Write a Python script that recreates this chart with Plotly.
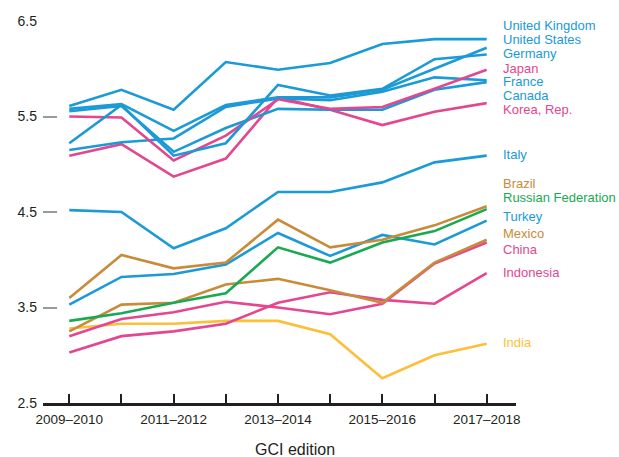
import plotly.graph_objects as go

editions = ["2009–2010", "2010–2011", "2011–2012", "2012–2013", "2013–2014",
            "2014–2015", "2015–2016", "2016–2017", "2017–2018"]

united_kingdom = [5.61, 5.78, 5.57, 6.07, 5.99, 6.06, 6.26, 6.31, 6.31]
united_states = [5.58, 5.63, 5.35, 5.62, 5.70, 5.70, 5.78, 6.00, 6.22]
germany = [5.22, 5.62, 5.09, 5.22, 5.83, 5.72, 5.79, 6.10, 6.15]
japan = [5.50, 5.49, 5.04, 5.30, 5.68, 5.58, 5.60, 5.79, 5.99]
france = [5.15, 5.23, 5.27, 5.60, 5.69, 5.67, 5.76, 5.91, 5.88]
canada = [5.555, 5.61, 5.13, 5.38, 5.58, 5.57, 5.57, 5.78, 5.86]
korea = [5.09, 5.21, 4.87, 5.06, 5.70, 5.57, 5.41, 5.55, 5.64]
italy = [4.52, 4.50, 4.12, 4.33, 4.71, 4.71, 4.81, 5.02, 5.09]
brazil = [3.60, 4.05, 3.91, 3.97, 4.42, 4.13, 4.21, 4.36, 4.56]
russia = [3.36, 3.44, 3.55, 3.65, 4.13, 3.97, 4.18, 4.30, 4.53]
turkey = [3.53, 3.82, 3.85, 3.95, 4.28, 4.04, 4.26, 4.16, 4.41]
mexico = [3.25, 3.53, 3.55, 3.74, 3.80, 3.68, 3.55, 3.97, 4.21]
china = [3.20, 3.38, 3.45, 3.56, 3.50, 3.43, 3.54, 3.96, 4.18]
indonesia = [3.03, 3.20, 3.25, 3.33, 3.55, 3.66, 3.58, 3.54, 3.86]
india = [3.28, 3.33, 3.33, 3.36, 3.36, 3.22, 2.76, 3.00, 3.12]

y_ticks = [2.5, 3.5, 4.5, 5.5, 6.5]

BLUE = "#1a9ad6"
PINK = "#e4468f"
BROWN = "#c98b3a"
GREEN = "#19a952"
YELLOW = "#fcbf38"

series = [
    ("India", india, YELLOW),
    ("Indonesia", indonesia, PINK),
    ("China", china, PINK),
    ("Mexico", mexico, BROWN),
    ("Turkey", turkey, BLUE),
    ("Russian Federation", russia, GREEN),
    ("Brazil", brazil, BROWN),
    ("Italy", italy, BLUE),
    ("Korea, Rep.", korea, PINK),
    ("Canada", canada, BLUE),
    ("France", france, BLUE),
    ("Japan", japan, PINK),
    ("Germany", germany, BLUE),
    ("United States", united_states, BLUE),
    ("United Kingdom", united_kingdom, BLUE),
]

# label vertical pixel positions (layout, not data)
label_pix = {
    "United Kingdom": 25, "United States": 40, "Germany": 53.5, "Japan": 68,
    "France": 81.5, "Canada": 95.5, "Korea, Rep.": 109.5, "Italy": 154,
    "Brazil": 183.5, "Russian Federation": 197.5, "Turkey": 216.5,
    "Mexico": 233.5, "China": 249.5, "Indonesia": 272.5, "India": 342,
}

W, H = 619, 457
L, R, T, B = 43, 103, 21, 54
plot_h = H - T - B
plot_w = W - L - R
FONT = "Liberation Sans, Arial, sans-serif"

xs = list(range(len(editions)))
fig = go.Figure()
for name, vals, col in series:
    fig.add_trace(go.Scatter(x=xs, y=vals, mode="lines", name=name,
                             line=dict(color=col, width=2.6), showlegend=False,
                             hoverinfo="skip"))

annotations = []
for name, vals, col in series:
    ypix = label_pix[name]
    annotations.append(dict(
        xref="paper", yref="paper",
        x=(501 - L) / plot_w, y=(H - B - ypix) / plot_h,
        xanchor="left", yanchor="middle", showarrow=False,
        text=name, font=dict(family=FONT, size=13, color=col),
    ))
annotations.append(dict(
    xref="paper", yref="paper", x=(295 - L) / plot_w, y=(H - B - 449) / plot_h,
    xanchor="center", yanchor="middle", showarrow=False, text="GCI edition",
    font=dict(family=FONT, size=16, color="#231f20"),
))

ticktext = [e if i % 2 == 0 else "" for i, e in enumerate(editions)]

fig.update_layout(
    width=W, height=H,
    margin=dict(l=L, r=R, t=T, b=B, pad=0),
    paper_bgcolor="white", plot_bgcolor="white",
    font=dict(family=FONT, size=13.5, color="#231f20"),
    annotations=annotations,
    xaxis=dict(
        range=[-0.504, 8.562], tickmode="array", tickvals=xs, ticktext=ticktext,
        showgrid=False, zeroline=False, showline=True, linecolor="#231f20",
        linewidth=2.5, ticks="inside", ticklen=9, tickwidth=2, tickcolor="#231f20",
        tickfont=dict(size=13.5, color="#231f20"), ticklabelstandoff=2,
        fixedrange=True,
    ),
    yaxis=dict(
        range=[2.5, 6.5], tickmode="array", tickvals=y_ticks,
        ticktext=[f"{v:.1f}" for v in y_ticks],
        showgrid=False, zeroline=False, showline=False,
        ticks="inside", ticklen=14, tickwidth=1.5, tickcolor="#9a9a9a",
        tickfont=dict(size=14, color="#231f20"), ticklabelstandoff=5,
        fixedrange=True,
    ),
)

fig.write_html("out.html", config={"displayModeBar": False},
               post_script="document.body.style.margin='0';document.body.style.padding='0';")
